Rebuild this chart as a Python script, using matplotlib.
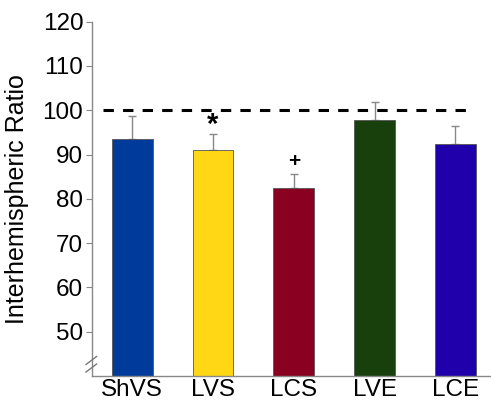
import matplotlib
matplotlib.use("Agg")
import matplotlib.pyplot as plt

categories = ["ShVS", "LVS", "LCS", "LVE", "LCE"]
values = [93.5, 91.0, 82.5, 97.8, 92.3]
errors = [5.2, 3.6, 3.0, 4.0, 4.1]
colors = ["#003A9B", "#FFD714", "#8A0020", "#18400C", "#2000AA"]
yticks = [50, 60, 70, 80, 90, 100, 110, 120]
markers = {"LVS": ("*", 96.6), "LCS": ("+", 88.5)}
ref_level = 100

plt.rcParams['font.family'] = ['Liberation Sans', 'DejaVu Sans']

fig = plt.figure(figsize=(4.91, 4.05), dpi=100)
ax = fig.add_axes([91.7/491, (405-376)/405, 1 - 91.7/491, (376-21.7)/405])

x = list(range(len(categories)))
ax.bar(x, values, width=0.505, color=colors, edgecolor="#555555", linewidth=0.6, zorder=2)
ax.errorbar(x, values, yerr=[[0]*len(values), errors], fmt="none", ecolor="#888888",
            elinewidth=1.0, capsize=3, capthick=1.0, zorder=1)

ax.plot([-0.36, 4.22], [ref_level, ref_level], color="black", lw=2.2, dashes=(3.4, 3.0), zorder=3)

for cat, (sym, yv) in markers.items():
    i = categories.index(cat)
    if sym == "*":
        ax.text(i, yv, "*", ha="center", va="center", fontsize=21, fontweight="bold")
    else:
        ax.text(i, yv, "+", ha="center", va="center", fontsize=15, fontweight="bold")

ax.set_xlim(-0.5, 4.44)
ax.set_ylim(40, 120)
ax.set_yticks(yticks)
ax.set_yticklabels([str(t) for t in yticks], fontsize=17.5)
ax.set_xticks(x)
ax.set_xticklabels(categories, fontsize=17.5)
ax.tick_params(axis="x", length=0, pad=2)
ax.tick_params(axis="y", length=4, width=0.8, color="#888888", pad=2)
for s in ["top", "right"]:
    ax.spines[s].set_visible(False)
for s in ["left", "bottom"]:
    ax.spines[s].set_color("#888888")
    ax.spines[s].set_linewidth(1.0)
ax.set_ylabel("Interhemispheric Ratio", fontsize=18, labelpad=10)

# axis break marks
for yb in [43.5, 41.8]:
    ax.plot([-0.57, -0.44], [yb - 0.9, yb + 0.9], color="#777777", lw=1.0,
            clip_on=False, zorder=4)

fig.savefig("out.png", dpi=100)
